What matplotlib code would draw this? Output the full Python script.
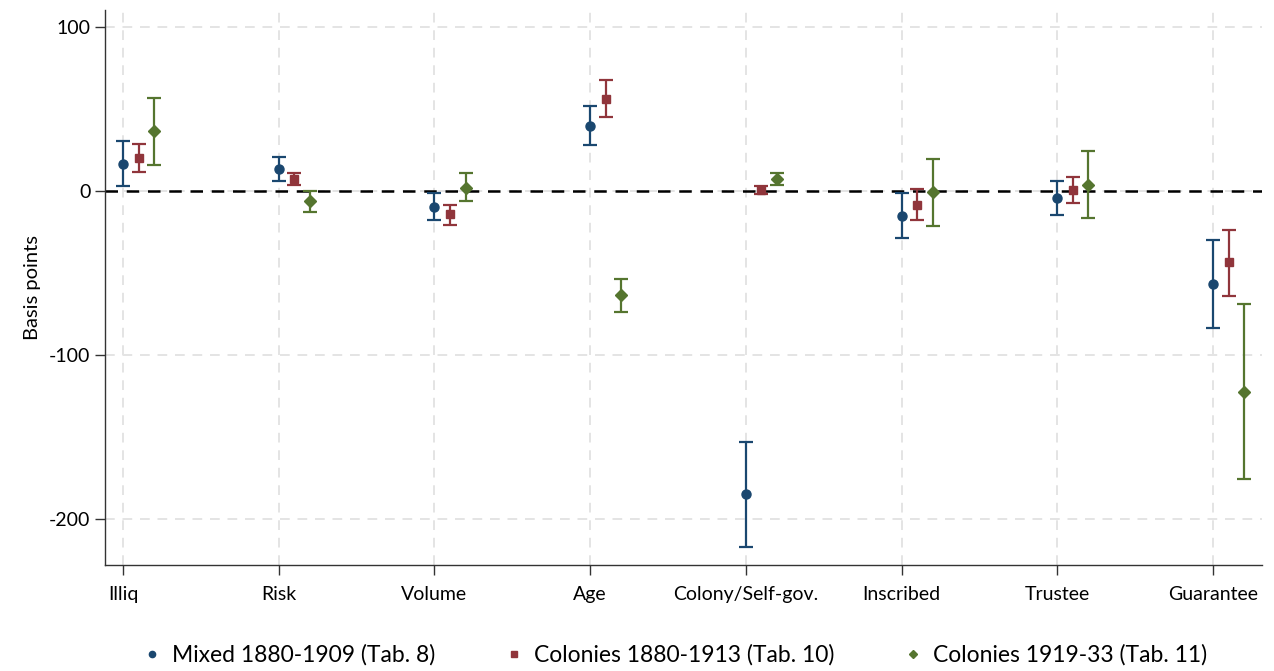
import numpy as np
import matplotlib.pyplot as plt
from matplotlib.lines import Line2D

plt.rcParams['font.family'] = ['Lato', 'DejaVu Sans']
plt.rcParams['axes.unicode_minus'] = False

categories = ['Illiq', 'Risk', 'Volume', 'Age', 'Colony/Self-gov.', 'Inscribed', 'Trustee', 'Guarantee']

series_names = ['Mixed 1880-1909 (Tab. 8)', 'Colonies 1880-1913 (Tab. 10)', 'Colonies 1919-33 (Tab. 11)']

# point estimates and confidence bounds (basis points)
mixed = [16.5, 13.4, -9.8, 40.0, -185.0, -15.0, -4.3, -56.7]
mixed_lo = [3.0, 6.0, -17.7, 28.0, -217.0, -28.7, -14.6, -83.5]
mixed_hi = [30.5, 20.7, -1.2, 51.8, -153.0, -1.2, 6.0, -30.0]

col_pre = [20.0, 7.3, -14.0, 56.0, 0.6, -8.5, 0.6, -43.3]
col_pre_lo = [11.6, 3.7, -20.7, 45.0, -2.0, -17.7, -7.3, -64.0]
col_pre_hi = [28.7, 11.0, -8.5, 67.7, 3.0, 1.2, 8.5, -23.8]

col_post = [36.6, -6.0, 1.8, -63.4, 7.3, -0.6, 3.7, -122.6]
col_post_lo = [15.9, -12.8, -6.0, -73.8, 3.7, -21.3, -16.5, -175.6]
col_post_hi = [56.7, 0.0, 11.0, -53.7, 11.0, 19.5, 24.4, -69.0]

colors = ['#1a476f', '#90353b', '#55752f']
markers = ['o', 's', 'D']
sizes = [6.5, 6.0, 6.0]
offsets = [0.0, 0.1, 0.2]

fig = plt.figure(figsize=(12.74, 6.71), dpi=100)
ax = fig.add_axes([0.0824, 0.158, 0.9082, 0.827])

x = np.arange(len(categories))
data = [(mixed, mixed_lo, mixed_hi), (col_pre, col_pre_lo, col_pre_hi), (col_post, col_post_lo, col_post_hi)]

ax.axhline(0, color='black', lw=1.8, ls=(0, (5, 3.5)), zorder=2)

for i, (est, lo, hi) in enumerate(data):
    est = np.array(est)
    err = [est - np.array(lo), np.array(hi) - est]
    ax.errorbar(x + offsets[i], est, yerr=err, fmt=markers[i], color=colors[i],
                ms=sizes[i], elinewidth=1.6, capsize=5, capthick=1.6, zorder=3,
                label=series_names[i])

ax.set_xlim(-0.116, 7.315)
ax.set_ylim(-228, 110.5)
ax.set_yticks([-200, -100, 0, 100])
ax.set_xticks(x)
ax.set_xticklabels(categories)
ax.grid(True, color='#e4e4e4', ls=(0, (5, 4)), lw=1.4)
ax.set_axisbelow(True)
for s in ['top', 'right']:
    ax.spines[s].set_visible(False)
for s in ['left', 'bottom']:
    ax.spines[s].set_linewidth(1.0)
    ax.spines[s].set_color('#333333')
ax.tick_params(axis='both', labelsize=14, length=7, width=1.0, color='#333333')
ax.tick_params(axis='x', pad=8)
ax.set_ylabel('Basis points', fontsize=14.5, labelpad=6)

leg_handles = [Line2D([], [], marker=markers[i], color=colors[i], ls='none', ms=4.5) for i in range(3)]
fig.legend(leg_handles, series_names, loc='center', bbox_to_anchor=(0.528, 0.024), ncol=3,
           frameon=False, fontsize=16.5, handletextpad=0.3, columnspacing=2.8, handlelength=1.2)

fig.savefig('out.png', dpi=100)
